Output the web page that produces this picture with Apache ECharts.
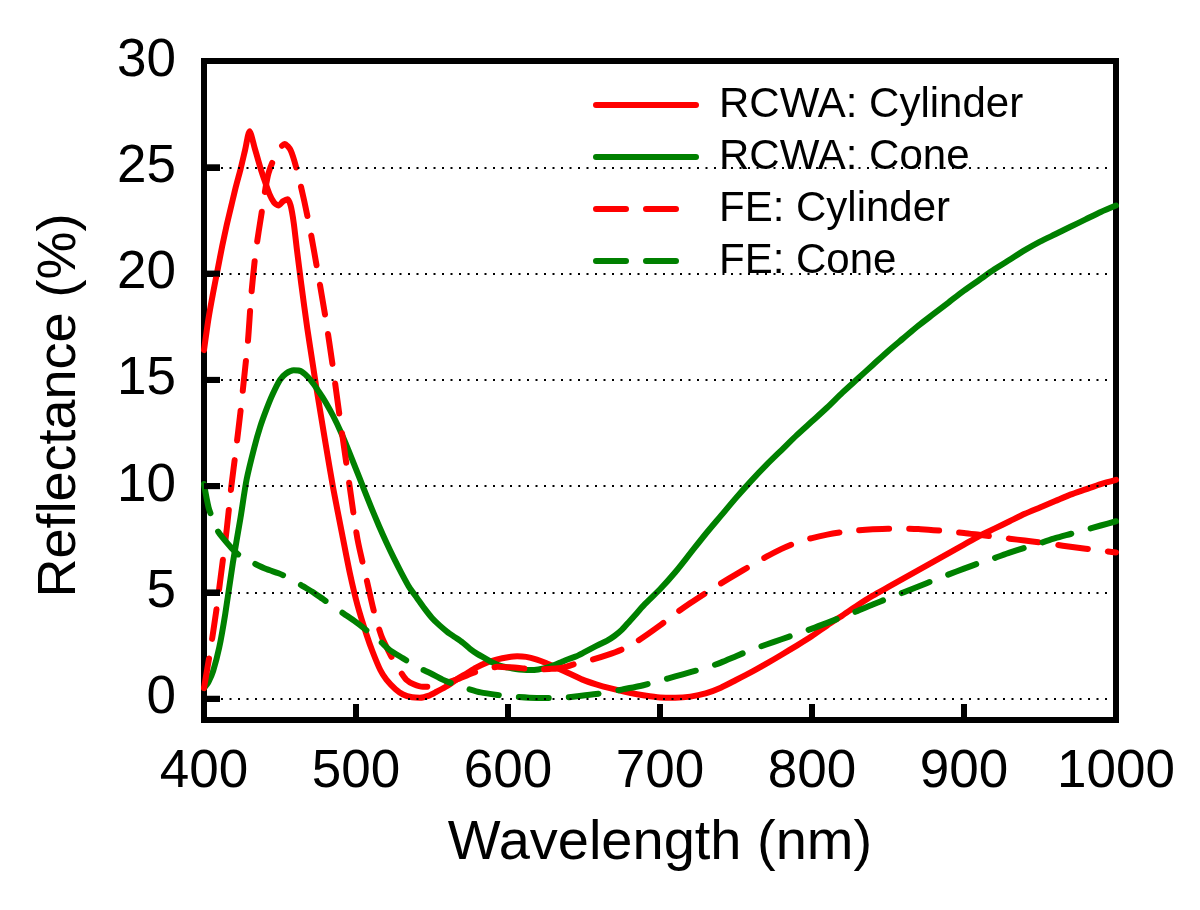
<!DOCTYPE html>
<html>
<head>
<meta charset="utf-8">
<script src="https://cdn.jsdelivr.net/npm/echarts@6/dist/echarts.min.js"></script>
<style>html,body{margin:0;padding:0;background:#fff}#c{width:1200px;height:910px}</style>
</head>
<body>
<div id="c"></div>
<script>
const seriesNames = ['RCWA: Cylinder', 'RCWA: Cone', 'FE: Cylinder', 'FE: Cone'];
const xTicks = [400, 500, 600, 700, 800, 900, 1000];
const yTicks = [0, 5, 10, 15, 20, 25, 30];

const wlRcwaCyl = [400,403,406,409,412,415,418,421,424,427,430,433,437,440,443,446,449,452,455,457,459,461,464,468,471,474,480,485,491,496,501,507,511,516,520,526,531,537,542,548,553,560,566,573,579,586,593,600,606,612,619,625,632,640,649,658,667,680,690,700,710,720,730,740,750,760,770,780,790,800,810,820,830,840,850,860,870,880,890,900,910,920,930,940,950,960,970,980,990,1000];
const rfRcwaCyl = [16.4,17.9,19.1,20.2,21.3,22.3,23.2,24.1,24.9,25.8,26.7,26.0,25.0,24.35,23.75,23.35,23.2,23.4,23.5,23.2,22.4,21.2,19.5,17.4,16.0,14.6,12.0,9.9,7.7,5.9,4.4,3.0,2.2,1.35,0.9,0.45,0.2,0.07,0.05,0.15,0.33,0.6,0.9,1.2,1.46,1.7,1.85,1.95,2.0,1.97,1.84,1.68,1.46,1.2,0.9,0.68,0.5,0.28,0.15,0.06,0.05,0.1,0.25,0.52,0.88,1.25,1.65,2.07,2.5,2.95,3.45,3.92,4.4,4.85,5.25,5.65,6.05,6.45,6.85,7.25,7.65,8.0,8.35,8.7,9.0,9.3,9.6,9.85,10.1,10.3];

const wlRcwaCone = [400,403,406,410,414,419,424,428,433,437,441,445,450,454,459,464,470,476,480,485,490,495,500,505,510,515,520,525,530,535,540,545,550,555,560,565,570,575,580,585,590,595,600,605,610,615,620,625,630,635,640,645,650,655,660,665,670,675,680,685,690,700,710,720,730,740,750,760,770,780,790,800,810,820,830,840,850,860,870,880,890,900,910,920,930,940,950,960,970,980,990,1000];
const rfRcwaCone = [0.5,0.8,1.3,2.4,4.0,6.4,8.5,10.3,11.8,12.8,13.6,14.3,15.0,15.3,15.45,15.4,15.0,14.4,13.95,13.3,12.55,11.7,10.8,9.9,9.0,8.15,7.35,6.6,5.9,5.25,4.75,4.25,3.8,3.45,3.15,2.9,2.65,2.35,2.1,1.9,1.7,1.55,1.47,1.4,1.36,1.35,1.38,1.45,1.57,1.72,1.87,2.0,2.18,2.37,2.55,2.72,2.95,3.25,3.65,4.05,4.45,5.15,5.95,6.85,7.75,8.6,9.45,10.25,11.0,11.7,12.4,13.05,13.7,14.4,15.05,15.7,16.35,16.95,17.55,18.1,18.65,19.2,19.7,20.2,20.65,21.1,21.5,21.85,22.2,22.55,22.9,23.2];

const wlFeCyl = [400,404,408,412,415,418,421,424,427,429,431,434,438,442,446,450,453,457,461,466,470,475,480,485,489,492,496,501,507,512,517,521,525,529,533,538,544,550,555,561,566,573,579,586,593,600,606,613,619,627,636,647,656,665,676,686,700,710,720,730,740,750,760,770,780,790,800,810,820,830,840,850,860,870,880,890,900,910,920,930,940,950,960,970,980,990,1000];
const rfFeCyl = [0.5,2.2,4.1,6.3,8.0,10.0,11.7,13.5,15.5,16.9,18.9,21.0,22.9,24.6,25.4,25.9,26.1,25.8,24.9,23.4,22.0,20.0,17.9,15.5,13.4,11.9,9.9,7.5,5.6,4.05,2.9,2.3,1.75,1.3,0.9,0.68,0.56,0.58,0.66,0.78,0.9,1.1,1.27,1.4,1.5,1.48,1.46,1.4,1.37,1.4,1.46,1.7,1.85,2.05,2.35,2.75,3.45,4.0,4.5,4.97,5.42,5.85,6.27,6.68,7.05,7.35,7.56,7.72,7.84,7.92,7.97,8.0,8.0,7.98,7.93,7.87,7.8,7.71,7.62,7.53,7.44,7.35,7.25,7.15,7.06,6.97,6.88];

const wlFeCone = [400,403,406,409,412,418,424,432,441,449,457,465,472,478,485,492,500,509,516,522,531,540,549,557,566,573,582,593,603,614,626,636,647,658,668,676,687,700,710,720,730,740,750,760,770,780,790,800,810,820,830,840,850,860,870,880,890,900,910,920,930,940,950,960,970,980,990,1000];
const rfFeCone = [10.1,9.0,8.4,7.9,7.6,7.1,6.7,6.4,6.1,5.9,5.65,5.3,5.0,4.7,4.35,4.0,3.6,3.1,2.7,2.3,1.9,1.5,1.2,0.9,0.65,0.48,0.3,0.18,0.1,0.05,0.04,0.05,0.13,0.22,0.33,0.45,0.6,0.85,1.05,1.25,1.45,1.7,2.0,2.3,2.55,2.8,3.05,3.3,3.57,3.85,4.13,4.43,4.72,5.0,5.28,5.57,5.85,6.12,6.38,6.62,6.87,7.1,7.32,7.55,7.75,7.95,8.15,8.35];

const RED = '#ff0000';
const GREEN = '#008000';
const FONT = '"Liberation Sans", Arial, Helvetica, sans-serif';
const TICK_LEN = 16;

function pairs(x, y) { return x.map((v, i) => [v, y[i]]); }

function makeSeries(name, x, y, color, dashed) {
  return {
    name: name,
    type: 'line',
    data: pairs(x, y),
    symbol: 'none',
    smooth: 0.25,
    z: 3,
    lineStyle: { color: color, width: 6, type: dashed ? [30, 20] : 'solid', cap: 'round', join: 'round' },
    itemStyle: { color: color }
  };
}

// Tick marks drawn as a custom series: positions come from api.coord (the chart's own scales)
function tickSeries(points, vertical) {
  return {
    type: 'custom',
    name: vertical ? 'xTickMarks' : 'yTickMarks',
    silent: true,
    clip: false,
    z: 20,
    data: points,
    renderItem: function (params, api) {
      const p = api.coord([api.value(0), api.value(1)]);
      return {
        type: 'line',
        shape: vertical
          ? { x1: p[0], y1: p[1], x2: p[0], y2: p[1] - TICK_LEN }
          : { x1: p[0], y1: p[1], x2: p[0] + TICK_LEN, y2: p[1] },
        style: { stroke: '#000', lineWidth: 6 }
      };
    }
  };
}

const chart = echarts.init(document.getElementById('c'), null, { renderer: 'canvas' });

try {
  chart.setOption({
    animation: false,
    backgroundColor: '#ffffff',
    grid: { left: 204, right: 84, top: 61, bottom: 190, show: true, borderColor: '#000', borderWidth: 6, backgroundColor: 'transparent' },
    xAxis: {
      type: 'value', min: xTicks[0], max: xTicks[xTicks.length - 1], interval: 100,
      name: 'Wavelength (nm)', nameLocation: 'middle', nameGap: 96,
      nameTextStyle: { fontFamily: FONT, fontSize: 56, color: '#000' },
      axisLine: { show: true, onZero: false, lineStyle: { color: '#000', width: 6 } },
      axisTick: { show: true, inside: true, length: TICK_LEN, lineStyle: { color: '#000', width: 6 } },
      axisLabel: { fontFamily: FONT, fontSize: 53, color: '#000', margin: 26, formatter: v => String(v) },
      splitLine: { show: false }
    },
    yAxis: {
      type: 'value', min: -1, max: 30, minInterval: 5, maxInterval: 5,
      axisLine: { show: true, onZero: false, lineStyle: { color: '#000', width: 6 } },
      axisTick: { show: true, inside: true, length: TICK_LEN, lineStyle: { color: '#000', width: 6 } },
      axisLabel: { fontFamily: FONT, fontSize: 53, color: '#000', margin: 28,
        formatter: v => (yTicks.indexOf(v) >= 0 ? String(v) : '') },
      splitLine: { show: false },
      name: 'Reflectance (%)', nameLocation: 'middle', nameGap: 117,
      nameTextStyle: { fontFamily: FONT, fontSize: 54, color: '#000', padding: [0, 30, 0, 0] }
    },
    series: [
      Object.assign(makeSeries(seriesNames[0], wlRcwaCyl, rfRcwaCyl, RED, false), {
        markLine: {
          silent: true, symbol: 'none', label: { show: false },
          lineStyle: { color: '#000', width: 2, type: [2, 6.5] },
          data: yTicks.filter(v => v < 30).map(v => ({ yAxis: v }))
        }
      }),
      makeSeries(seriesNames[1], wlRcwaCone, rfRcwaCone, GREEN, false),
      makeSeries(seriesNames[2], wlFeCyl, rfFeCyl, RED, true),
      makeSeries(seriesNames[3], wlFeCone, rfFeCone, GREEN, true),
      tickSeries(yTicks.filter(v => v < 30).map(v => [xTicks[0], v]), false),
      tickSeries(xTicks.slice(1, -1).map(v => [v, -1]), true)
    ]
  });
} catch (e) { console.error(e); }

try {
  chart.setOption({
    legend: {
      orient: 'vertical', left: 593, top: 84, padding: 0,
      itemWidth: 100, itemHeight: 14, itemGap: 10,
      data: seriesNames, selectedMode: false,
      itemStyle: { opacity: 0 },
      lineStyle: { width: 6 },
      textStyle: { fontFamily: FONT, fontSize: 42, color: '#000', lineHeight: 40, padding: [0, 0, 0, 18] }
    }
  });
} catch (e) { console.error(e); }
</script>
</body>
</html>
